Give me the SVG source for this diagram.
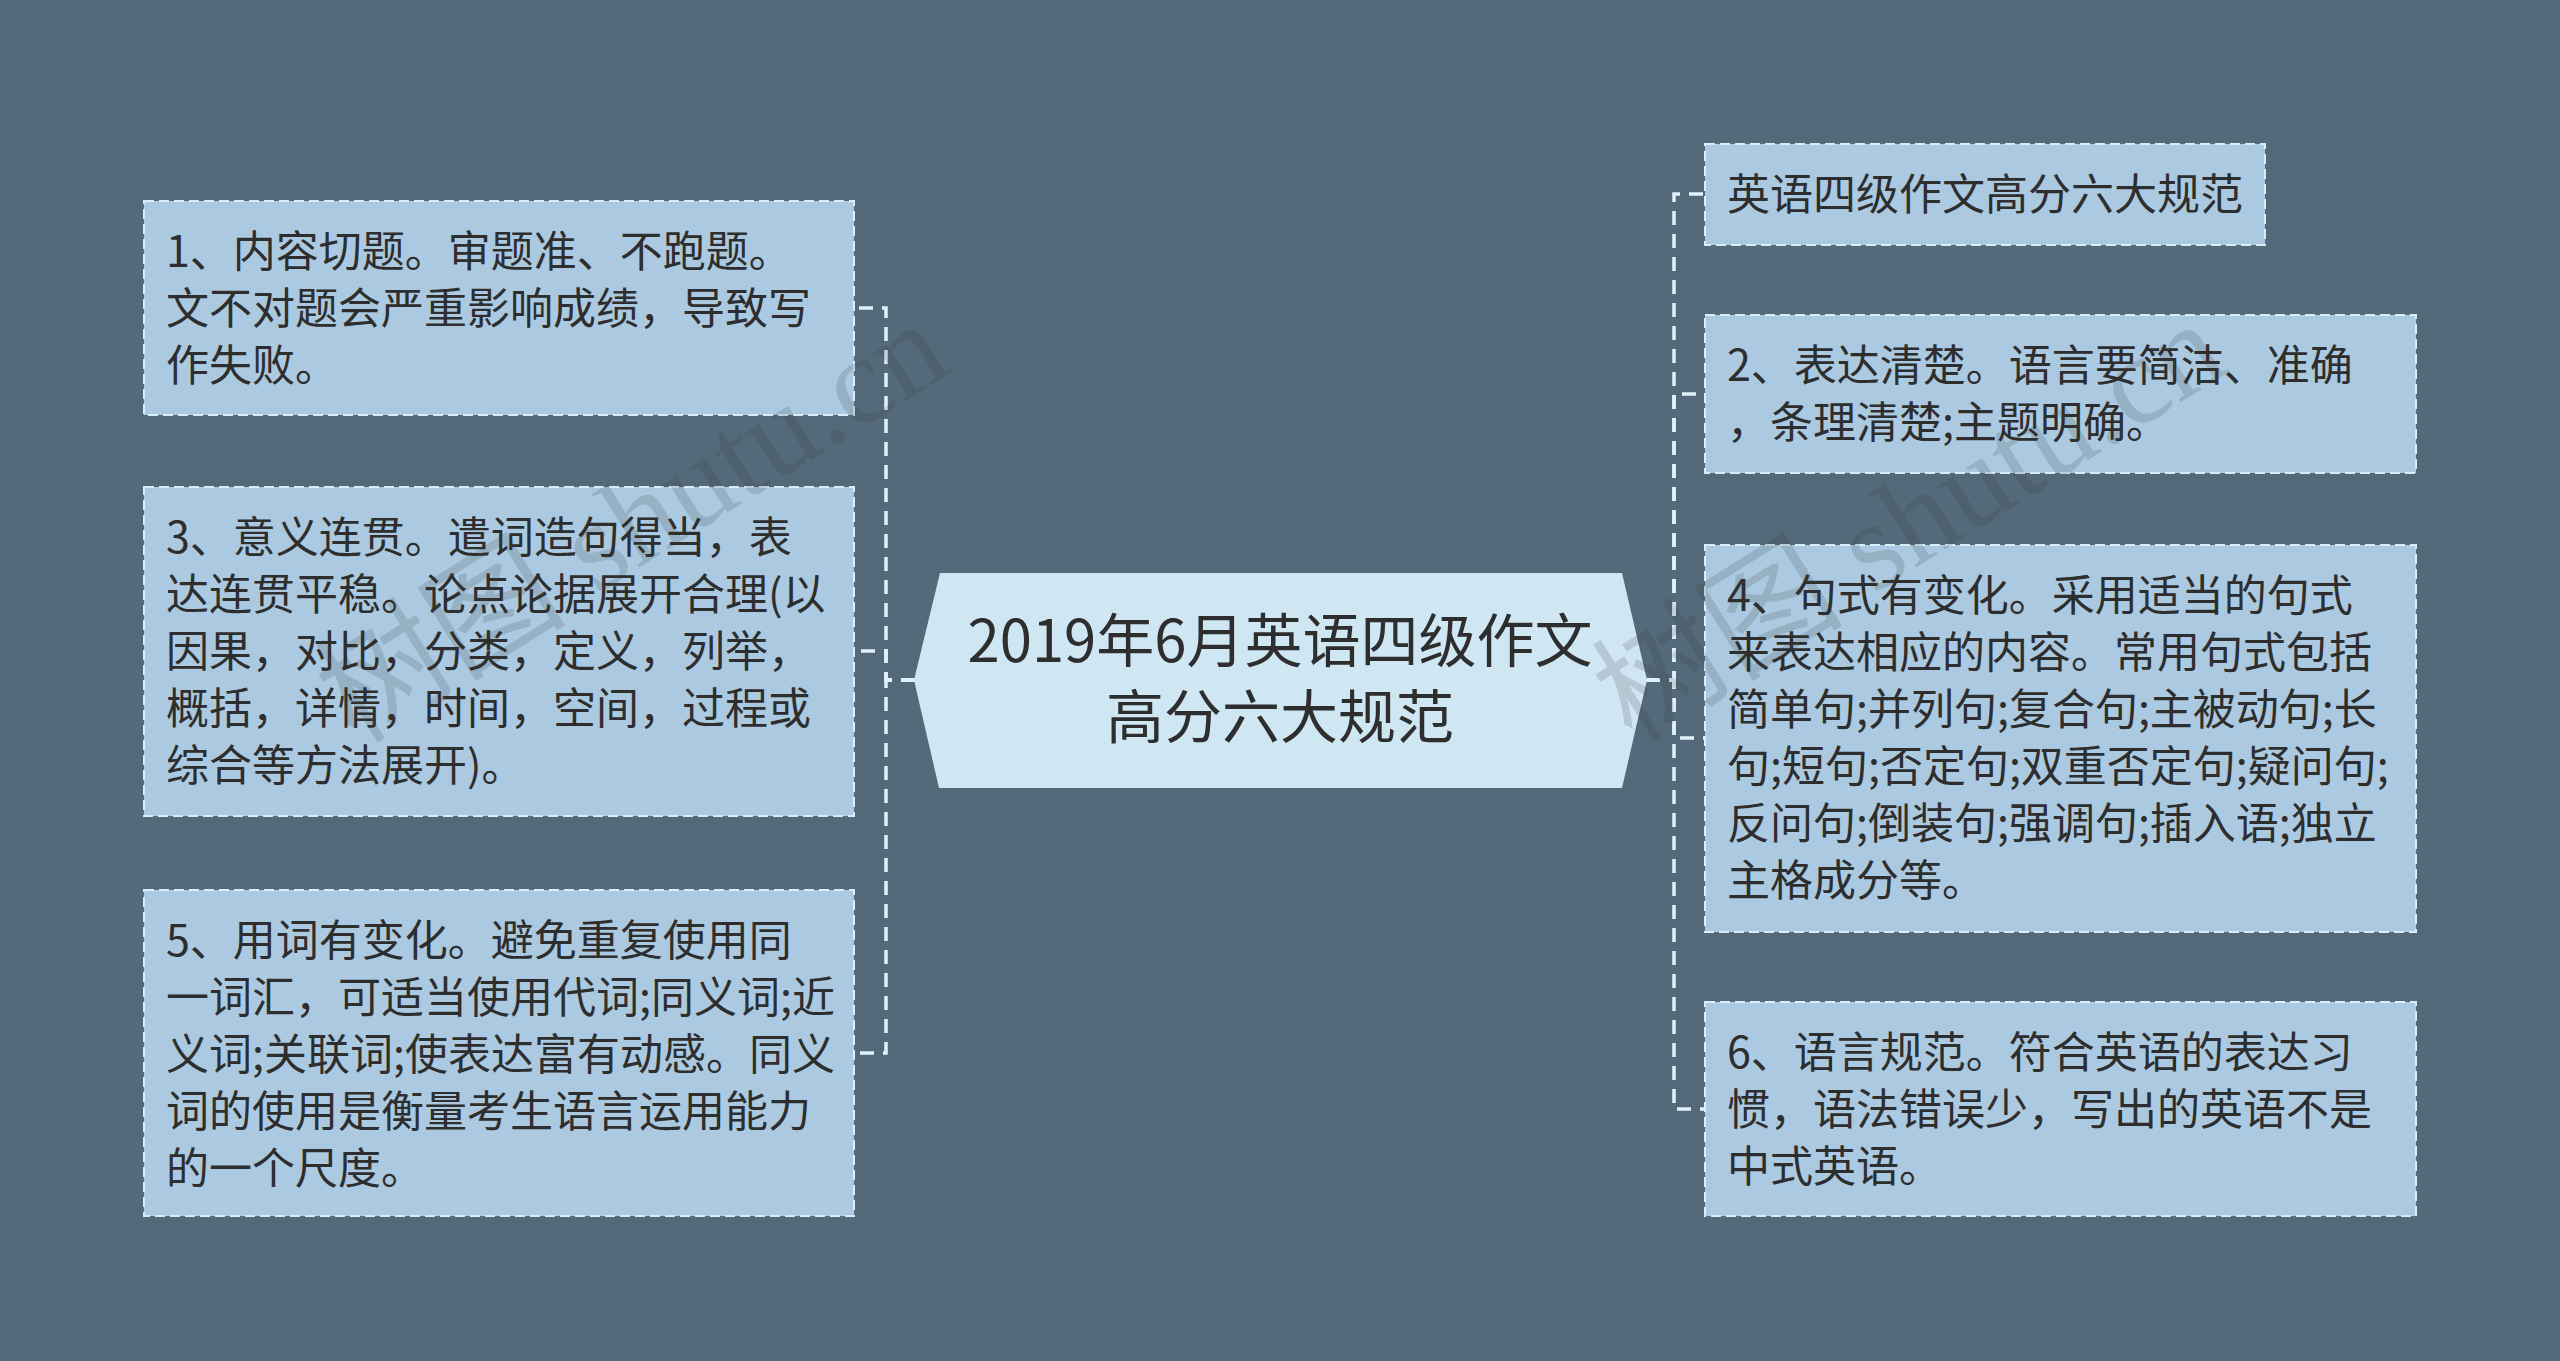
<svg xmlns="http://www.w3.org/2000/svg" width="2560" height="1361" viewBox="0 0 2560 1361">
<style>
.bg{fill:#536a7a}
.box{fill:#abcae1;stroke:#d8edf8;stroke-width:2;stroke-dasharray:10 5}
.hub{fill:#cfe6f3}
.t{font-family:"Noto Sans CJK SC","Noto Sans",sans-serif;font-size:43px;fill:#2e2e2e}
.ct{font-family:"Noto Sans CJK SC","Noto Sans",sans-serif;font-size:58px;fill:#2e2e2e;text-anchor:middle}
.link{fill:none;stroke:#e2f2fb;stroke-width:3.5;stroke-dasharray:14 9}
.wm{font-family:"Liberation Serif","Noto Sans CJK SC",serif;font-size:126px;fill:#3a3a3a;opacity:0.17}
</style>
<rect class="bg" x="0" y="0" width="2560" height="1361"/>
<g id="connectors">
<path class="link" d="M915 680 H886 V308 H854"/>
<path class="link" d="M915 680 H886 V651 H854"/>
<path class="link" d="M915 680 H886 V1053 H854"/>
<path class="link" d="M1646 680 H1674 V194 H1705"/>
<path class="link" d="M1646 680 H1674 V394 H1705"/>
<path class="link" d="M1646 680 H1674 V738 H1705"/>
<path class="link" d="M1646 680 H1674 V1109 H1705"/>
</g>
<g id="center">
<polygon class="hub" points="940,573 1622,573 1647,680 1622,788 939,788 914,680"/>
<text class="ct" x="1280" y="662">2019年6月英语四级作文</text>
<text class="ct" x="1280" y="738">高分六大规范</text>
</g>
<g id="n1">
<rect class="box" x="144" y="201" width="710" height="214"/>
<text class="t" x="166" y="267">1、内容切题。审题准、不跑题。</text>
<text class="t" x="166" y="324">文不对题会严重影响成绩，导致写</text>
<text class="t" x="166" y="381">作失败。</text>
</g>
<g id="n3">
<rect class="box" x="144" y="487" width="710" height="329"/>
<text class="t" x="166" y="553">3、意义连贯。遣词造句得当，表</text>
<text class="t" x="166" y="610">达连贯平稳。论点论据展开合理(以</text>
<text class="t" x="166" y="667">因果，对比，分类，定义，列举，</text>
<text class="t" x="166" y="724">概括，详情，时间，空间，过程或</text>
<text class="t" x="166" y="781">综合等方法展开)。</text>
</g>
<g id="n5">
<rect class="box" x="144" y="890" width="710" height="326"/>
<text class="t" x="166" y="956">5、用词有变化。避免重复使用同</text>
<text class="t" x="166" y="1013">一词汇，可适当使用代词;同义词;近</text>
<text class="t" x="166" y="1070">义词;关联词;使表达富有动感。同义</text>
<text class="t" x="166" y="1127">词的使用是衡量考生语言运用能力</text>
<text class="t" x="166" y="1184">的一个尺度。</text>
</g>
<g id="n0">
<rect class="box" x="1705" y="144" width="560" height="101"/>
<text class="t" x="1727" y="210">英语四级作文高分六大规范</text>
</g>
<g id="n2">
<rect class="box" x="1705" y="315" width="711" height="158"/>
<text class="t" x="1727" y="381">2、表达清楚。语言要简洁、准确</text>
<text class="t" x="1727" y="438">，条理清楚;主题明确。</text>
</g>
<g id="n4">
<rect class="box" x="1705" y="545" width="711" height="387"/>
<text class="t" x="1727" y="611">4、句式有变化。采用适当的句式</text>
<text class="t" x="1727" y="668">来表达相应的内容。常用句式包括</text>
<text class="t" x="1727" y="725">简单句;并列句;复合句;主被动句;长</text>
<text class="t" x="1727" y="782">句;短句;否定句;双重否定句;疑问句;</text>
<text class="t" x="1727" y="839">反问句;倒装句;强调句;插入语;独立</text>
<text class="t" x="1727" y="896">主格成分等。</text>
</g>
<g id="n6">
<rect class="box" x="1705" y="1002" width="711" height="214"/>
<text class="t" x="1727" y="1068">6、语言规范。符合英语的表达习</text>
<text class="t" x="1727" y="1125">惯，语法错误少，写出的英语不是</text>
<text class="t" x="1727" y="1182">中式英语。</text>
</g>
<g id="watermark">
<text class="wm" transform="translate(355 745) rotate(-32)">树图 shutu.cn</text>
<text class="wm" transform="translate(1632 745) rotate(-32)">树图 shutu.cn</text>
</g>
</svg>
